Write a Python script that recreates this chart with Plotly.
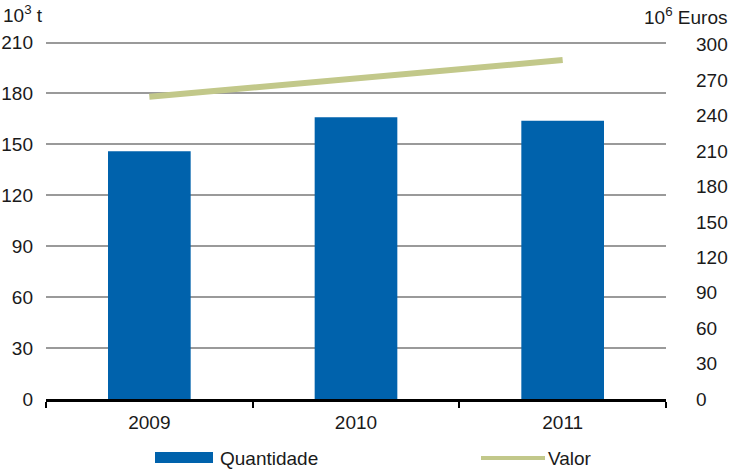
import plotly.graph_objects as go

years = ["2009", "2010", "2011"]
quantidade = [146, 166, 164]      # 10^3 t (left axis)
valor = [256, 271, 287]           # 10^6 Euros (right axis)
left_ticks = [0, 30, 60, 90, 120, 150, 180, 210]
right_ticks = [0, 30, 60, 90, 120, 150, 180, 210, 240, 270, 300]

BLUE = "#0062AC"
OLIVE = "#C2C88A"
FONT = "Liberation Sans, Arial, sans-serif"
TXT = "#1a1a1a"
FS = 19

fig = go.Figure()
fig.add_trace(go.Bar(x=years, y=quantidade, marker=dict(color=BLUE, line=dict(width=0)),
                     name="Quantidade", showlegend=False, yaxis="y"))
fig.add_trace(go.Scatter(x=years, y=valor, mode="lines",
                         line=dict(color=OLIVE, width=6),
                         name="Valor", showlegend=False, yaxis="y2"))

W, H = 729, 475
ml, mr, mt, mb = 46, 63, 40, 76
pw = W - ml - mr
ph = H - mt - mb

def px2x(px):
    return (px - ml) / pw

def py2y(py):
    return (H - mb - py) / ph

fig.update_layout(
    width=W, height=H,
    margin=dict(l=ml, r=mr, t=mt, b=mb, pad=0, autoexpand=False),
    paper_bgcolor="white", plot_bgcolor="white",
    font=dict(family=FONT, size=FS, color=TXT),
    bargap=0.6,
    xaxis=dict(showline=True, linecolor="black", linewidth=2.5, automargin=False,
               ticks="outside", tickson="boundaries", ticklen=6, tickwidth=1.5,
               tickcolor="black", showgrid=False, tickfont=dict(size=FS, color=TXT),
               ticklabelstandoff=4),
    yaxis=dict(range=[0, 211.5], tickvals=left_ticks, showgrid=True, gridcolor="#9a9a9a",
               gridwidth=2, zeroline=False, showline=False, ticks="", automargin=False,
               ticklabelstandoff=12, tickfont=dict(size=FS, color=TXT)),
    yaxis2=dict(range=[0, 304], tickvals=right_ticks, overlaying="y", side="right",
                showgrid=False, zeroline=False, showline=False, ticks="", automargin=False,
                ticklabelstandoff=29, tickfont=dict(size=FS, color=TXT)),
    showlegend=False,
)

# axis titles
fig.add_annotation(text="10<sup>3</sup> t", xref="paper", yref="paper",
                   x=px2x(1), y=py2y(14), xanchor="left", yanchor="middle",
                   showarrow=False, font=dict(size=FS, color=TXT))
fig.add_annotation(text="10<sup>6</sup> Euros", xref="paper", yref="paper",
                   x=px2x(729), y=py2y(16), xanchor="right", yanchor="middle",
                   showarrow=False, font=dict(size=FS, color=TXT))

# legend
fig.add_shape(type="rect", xref="paper", yref="paper",
              x0=px2x(155), x1=px2x(213), y0=py2y(463), y1=py2y(452),
              fillcolor=BLUE, line=dict(width=0))
fig.add_annotation(text="Quantidade", xref="paper", yref="paper",
                   x=px2x(218), y=py2y(459), xanchor="left", yanchor="middle",
                   showarrow=False, font=dict(size=FS, color=TXT))
fig.add_shape(type="line", xref="paper", yref="paper",
              x0=px2x(481), x1=px2x(545), y0=py2y(458), y1=py2y(458),
              line=dict(color=OLIVE, width=4))
fig.add_annotation(text="Valor", xref="paper", yref="paper",
                   x=px2x(546), y=py2y(459), xanchor="left", yanchor="middle",
                   showarrow=False, font=dict(size=FS, color=TXT))

fig.write_html("out.html")
